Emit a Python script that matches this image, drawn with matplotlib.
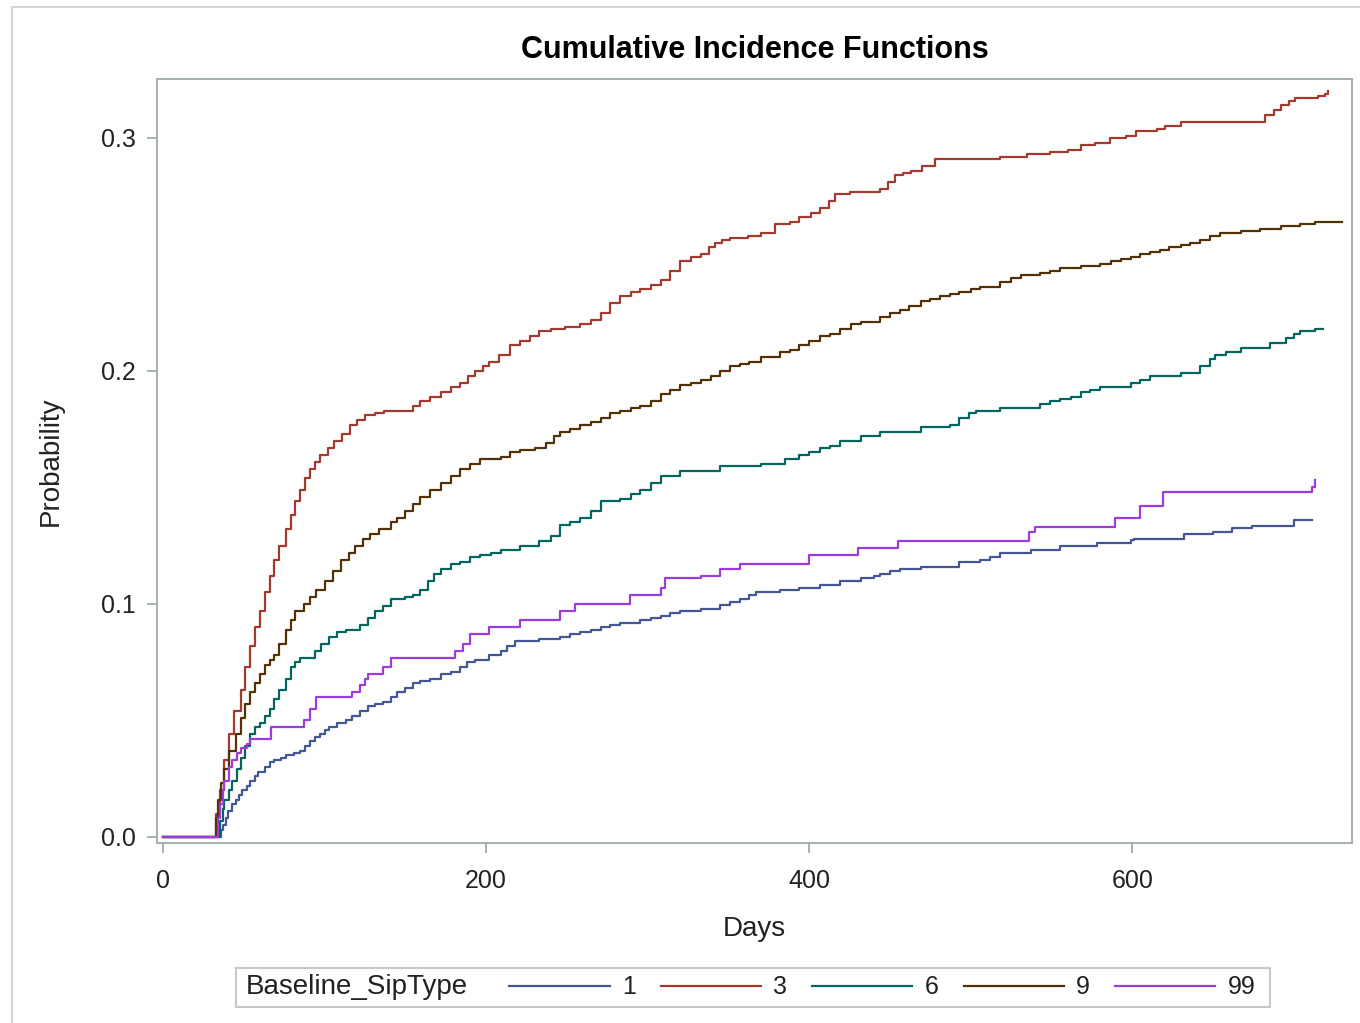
import matplotlib
matplotlib.use("Agg")
import matplotlib.pyplot as plt
from matplotlib.lines import Line2D
from matplotlib.patches import Rectangle

plt.rcParams["font.family"] = ["Liberation Sans", "DejaVu Sans"]

# step knots (day, cumulative incidence)
days_1 = [0, 35, 36, 37, 39, 40, 43, 45, 47, 49, 52, 54, 57, 59, 63, 66, 69, 73, 76, 81,
          85, 88, 91, 94, 97, 100, 103, 108, 113, 117, 122, 127, 131, 136, 141, 145, 150,
          155, 159, 165, 172, 178, 184, 188, 193, 202, 209, 213, 218, 233, 246, 252, 258,
          265, 271, 277, 283, 295, 302, 308, 314, 320, 333, 345, 351, 357, 363, 367, 382,
          394, 407, 419, 432, 440, 444, 450, 456, 469, 493, 506, 512, 518, 537, 555, 578,
          599, 601, 632, 650, 662, 674, 700, 711]
prob_1 = [0, 0, 0.003, 0.005, 0.008, 0.011, 0.014, 0.016, 0.018, 0.020, 0.022, 0.024,
          0.026, 0.028, 0.030, 0.032, 0.033, 0.034, 0.035, 0.036, 0.037, 0.039, 0.041,
          0.043, 0.044, 0.046, 0.047, 0.049, 0.050, 0.052, 0.054, 0.056, 0.057, 0.058,
          0.060, 0.062, 0.064, 0.066, 0.067, 0.068, 0.070, 0.071, 0.073, 0.075, 0.076,
          0.078, 0.080, 0.082, 0.084, 0.085, 0.086, 0.087, 0.088, 0.089, 0.090, 0.091,
          0.092, 0.093, 0.094, 0.095, 0.096, 0.097, 0.098, 0.0995, 0.101, 0.102, 0.104,
          0.105, 0.106, 0.107, 0.108, 0.110, 0.111, 0.112, 0.113, 0.114, 0.115, 0.116,
          0.118, 0.119, 0.120, 0.122, 0.123, 0.125, 0.126, 0.1275, 0.128, 0.130, 0.131,
          0.1325, 0.1335, 0.136, 0.136]

days_3 = [0, 32, 33, 35, 38, 41, 44, 48, 51, 54, 57, 60, 63, 66, 69, 72, 76, 79, 82, 85,
          88, 91, 94, 97, 102, 106, 111, 116, 120, 125, 131, 137, 155, 159, 165, 172, 178,
          184, 189, 193, 198, 202, 208, 215, 221, 227, 233, 240, 249, 258, 265, 271, 277,
          283, 290, 295, 302, 308, 314, 320, 327, 333, 338, 342, 346, 351, 362, 370, 379,
          388, 394, 401, 407, 412, 416, 425, 444, 449, 453, 458, 463, 470, 478, 518, 535,
          549, 560, 568, 577, 586, 596, 602, 615, 620, 630, 672, 682, 688, 692, 697, 701,
          715, 719, 721]
prob_3 = [0, 0, 0.010, 0.020, 0.033, 0.044, 0.054, 0.063, 0.073, 0.082, 0.090, 0.097,
          0.105, 0.112, 0.119, 0.125, 0.132, 0.138, 0.144, 0.149, 0.154, 0.158, 0.161,
          0.164, 0.167, 0.170, 0.173, 0.177, 0.179, 0.181, 0.182, 0.183, 0.185, 0.187,
          0.189, 0.191, 0.193, 0.195, 0.198, 0.200, 0.202, 0.204, 0.207, 0.211, 0.213,
          0.215, 0.217, 0.218, 0.219, 0.220, 0.222, 0.225, 0.229, 0.232, 0.234, 0.235,
          0.237, 0.239, 0.243, 0.247, 0.249, 0.250, 0.253, 0.255, 0.256, 0.257, 0.258,
          0.259, 0.263, 0.264, 0.266, 0.268, 0.270, 0.273, 0.276, 0.277, 0.278, 0.281,
          0.284, 0.285, 0.286, 0.288, 0.291, 0.292, 0.293, 0.294, 0.295, 0.297, 0.298,
          0.300, 0.301, 0.303, 0.304, 0.305, 0.307, 0.307, 0.310, 0.312, 0.314, 0.316,
          0.317, 0.318, 0.319, 0.320]

days_6 = [0, 34, 35, 37, 38, 41, 43, 46, 48, 51, 54, 57, 60, 63, 66, 69, 72, 76, 79, 82,
          85, 94, 98, 103, 108, 113, 122, 127, 131, 136, 141, 150, 155, 159, 164, 168, 172,
          178, 184, 190, 196, 203, 209, 221, 233, 240, 246, 252, 258, 265, 271, 283, 290,
          295, 302, 308, 320, 345, 370, 385, 394, 400, 407, 413, 419, 432, 444, 469, 487,
          493, 499, 503, 518, 543, 549, 555, 562, 568, 574, 580, 599, 605, 611, 630, 642,
          648, 651, 658, 667, 685, 695, 700, 704, 713, 718]
prob_6 = [0, 0, 0.007, 0.012, 0.016, 0.020, 0.024, 0.029, 0.034, 0.039, 0.044, 0.047,
          0.049, 0.052, 0.055, 0.059, 0.063, 0.068, 0.073, 0.075, 0.077, 0.080, 0.083,
          0.086, 0.088, 0.089, 0.091, 0.094, 0.097, 0.099, 0.102, 0.103, 0.104, 0.106,
          0.110, 0.113, 0.115, 0.117, 0.118, 0.120, 0.121, 0.122, 0.123, 0.125, 0.127,
          0.129, 0.134, 0.135, 0.137, 0.140, 0.144, 0.145, 0.147, 0.149, 0.152, 0.155,
          0.157, 0.159, 0.160, 0.162, 0.164, 0.165, 0.167, 0.168, 0.170, 0.172, 0.174,
          0.176, 0.177, 0.180, 0.182, 0.183, 0.184, 0.186, 0.187, 0.188, 0.189, 0.191,
          0.192, 0.193, 0.195, 0.196, 0.198, 0.199, 0.202, 0.205, 0.207, 0.208, 0.210,
          0.212, 0.214, 0.216, 0.217, 0.218, 0.218]

days_9 = [0, 31, 33, 34, 36, 38, 41, 45, 48, 51, 54, 57, 60, 63, 66, 69, 72, 76, 79, 82,
          87, 91, 95, 100, 105, 110, 115, 119, 124, 128, 134, 141, 145, 150, 155, 159, 165,
          172, 178, 184, 190, 196, 209, 215, 221, 230, 237, 242, 246, 252, 258, 265, 271,
          277, 283, 290, 295, 302, 308, 314, 320, 327, 333, 339, 345, 351, 357, 363, 370,
          382, 388, 394, 400, 407, 413, 419, 426, 432, 444, 450, 456, 462, 469, 475, 481,
          487, 493, 500, 506, 518, 525, 531, 543, 549, 555, 568, 580, 587, 593, 599, 605,
          611, 617, 623, 630, 636, 642, 648, 654, 667, 679, 692, 704, 713, 730]
prob_9 = [0, 0, 0.008, 0.016, 0.023, 0.029, 0.037, 0.044, 0.051, 0.057, 0.062, 0.066,
          0.070, 0.074, 0.076, 0.078, 0.083, 0.089, 0.093, 0.097, 0.100, 0.103, 0.106,
          0.110, 0.114, 0.119, 0.122, 0.125, 0.128, 0.130, 0.132, 0.135, 0.137, 0.140,
          0.143, 0.146, 0.149, 0.152, 0.155, 0.158, 0.160, 0.162, 0.163, 0.165, 0.166,
          0.167, 0.169, 0.172, 0.174, 0.175, 0.177, 0.178, 0.180, 0.182, 0.183, 0.184,
          0.185, 0.187, 0.190, 0.192, 0.194, 0.195, 0.196, 0.198, 0.200, 0.202, 0.203,
          0.204, 0.206, 0.208, 0.209, 0.211, 0.213, 0.215, 0.216, 0.218, 0.220, 0.221,
          0.223, 0.225, 0.226, 0.228, 0.230, 0.231, 0.232, 0.233, 0.234, 0.235, 0.236,
          0.238, 0.240, 0.241, 0.242, 0.243, 0.244, 0.245, 0.246, 0.247, 0.248, 0.249,
          0.250, 0.251, 0.252, 0.253, 0.254, 0.255, 0.256, 0.258, 0.259, 0.260, 0.261,
          0.262, 0.263, 0.264, 0.264]

days_99 = [0, 33, 34, 35, 37, 38, 41, 43, 46, 48, 52, 54, 67, 87, 91, 95, 117, 122, 125,
           127, 136, 141, 181, 186, 190, 202, 221, 246, 255, 289, 308, 311, 333, 345, 357,
           400, 430, 455, 536, 540, 589, 605, 619, 711, 713]
prob_99 = [0, 0, 0.008, 0.014, 0.020, 0.024, 0.030, 0.033, 0.036, 0.038, 0.040, 0.042,
           0.047, 0.050, 0.055, 0.060, 0.062, 0.065, 0.068, 0.070, 0.073, 0.077, 0.080,
           0.083, 0.087, 0.090, 0.093, 0.097, 0.100, 0.104, 0.107, 0.111, 0.112, 0.115,
           0.117, 0.121, 0.124, 0.127, 0.131, 0.133, 0.137, 0.142, 0.148, 0.150, 0.153]

groups = ["1", "3", "6", "9", "99"]
colors = ["#445694", "#A23A2E", "#01665E", "#543005", "#9D3CDB"]
series = [(days_1, prob_1), (days_3, prob_3), (days_6, prob_6),
          (days_9, prob_9), (days_99, prob_99)]

fig = plt.figure(figsize=(13.6, 10.23), dpi=100)
ax = fig.add_axes([157 / 1360, 180 / 1023, 1195 / 1360, 764 / 1023])

for (d, p), c in zip(series, colors):
    ax.step(d, p, where="post", color=c, lw=1.6)

ax.set_xlim(-3.7, 736)
ax.set_ylim(-0.0026, 0.3253)
ax.set_xticks([0, 200, 400, 600])
ax.set_yticks([0.0, 0.1, 0.2, 0.3])
ax.set_yticklabels(["0.0", "0.1", "0.2", "0.3"])

frame_col = "#A2AAAF"
txt_col = "#222222"
for s in ax.spines.values():
    s.set_color(frame_col)
    s.set_linewidth(1.3)
ax.tick_params(direction="out", length=7, width=1.3, color=frame_col,
               labelsize=18, labelcolor=txt_col)
ax.tick_params(axis="x", pad=12)
ax.tick_params(axis="y", pad=8)

ax.set_xlabel("Days", fontsize=20, color=txt_col, labelpad=16)
ax.set_ylabel("Probability", fontsize=20, color=txt_col, labelpad=27)
ax.set_title("Cumulative Incidence Functions", fontsize=22, fontweight="bold",
             pad=15)

# outer border of the graph area
fig.add_artist(Line2D([12 / 1360, 12 / 1360], [0, 1 - 7 / 1023], color="#D4D4D4", lw=1.5))
fig.add_artist(Line2D([12 / 1360, 1], [1 - 7 / 1023, 1 - 7 / 1023], color="#D4D4D4", lw=1.5))

# legend frame with group title on the left
fig.add_artist(Rectangle((236 / 1360, 16 / 1023), 1034 / 1360, 39 / 1023,
                         fill=False, edgecolor="#C8C8C8", lw=1.5))
fig.text(246 / 1360, 35.5 / 1023, "Baseline_SipType", fontsize=20,
         color=txt_col, va="center", ha="left")
handles = [Line2D([], [], color=c, lw=1.6) for c in colors]
fig.legend(handles, groups, loc="center left", ncol=5, frameon=False,
           bbox_to_anchor=(497 / 1360, 35.5 / 1023), fontsize=18,
           handlelength=4.0, handletextpad=0.5, columnspacing=1.0,
           borderpad=0, labelcolor=txt_col)

fig.savefig("out.png", dpi=100)
